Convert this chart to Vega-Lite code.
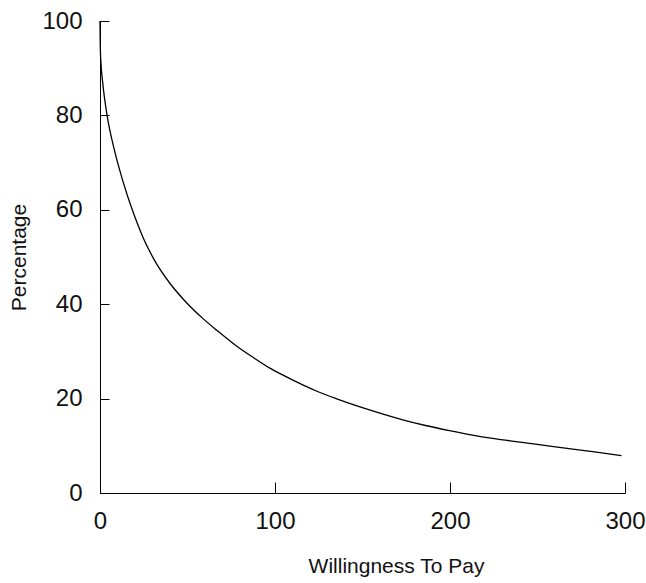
{
  "$schema": "https://vega.github.io/schema/vega-lite/v6.json",
  "width": 525,
  "height": 472,
  "autosize": {"type": "none"},
  "padding": {"left": 100, "top": 21, "right": 21, "bottom": 90},
  "background": "white",
  "data": {
    "values": [
      {"wtp": 0, "pct": 100},
      {"wtp": 0.17, "pct": 94.3},
      {"wtp": 0.6, "pct": 90.8},
      {"wtp": 1.5, "pct": 87.1},
      {"wtp": 4.0, "pct": 80.1},
      {"wtp": 8.0, "pct": 73.0},
      {"wtp": 12.9, "pct": 66.3},
      {"wtp": 19.2, "pct": 59.2},
      {"wtp": 24.4, "pct": 54.3},
      {"wtp": 31.0, "pct": 49.4},
      {"wtp": 39.6, "pct": 44.6},
      {"wtp": 48.0, "pct": 40.9},
      {"wtp": 58.7, "pct": 37.0},
      {"wtp": 67.0, "pct": 34.4},
      {"wtp": 77.8, "pct": 31.2},
      {"wtp": 88.0, "pct": 28.6},
      {"wtp": 96.8, "pct": 26.5},
      {"wtp": 106.0, "pct": 24.7},
      {"wtp": 115.8, "pct": 22.9},
      {"wtp": 125.0, "pct": 21.4},
      {"wtp": 134.9, "pct": 20.0},
      {"wtp": 154.0, "pct": 17.6},
      {"wtp": 173.0, "pct": 15.5},
      {"wtp": 186.0, "pct": 14.3},
      {"wtp": 199.7, "pct": 13.2},
      {"wtp": 212.0, "pct": 12.3},
      {"wtp": 225.4, "pct": 11.5},
      {"wtp": 240.0, "pct": 10.8},
      {"wtp": 254.0, "pct": 10.1},
      {"wtp": 268.0, "pct": 9.4},
      {"wtp": 282.6, "pct": 8.7},
      {"wtp": 298.0, "pct": 7.9}
    ]
  },
  "mark": {"type": "line", "color": "#000", "strokeWidth": 1.3, "interpolate": "monotone"},
  "encoding": {
    "x": {
      "field": "wtp",
      "type": "quantitative",
      "scale": {"domain": [0, 300], "nice": false, "zero": false},
      "axis": {
        "title": "Willingness To Pay",
        "values": [0, 100, 200, 300],
        "tickSize": -11,
        "labelPadding": 27,
        "titleX": 296,
        "titleY": 73,
        "titleBaseline": "middle",
        "titleAnchor": "middle",
        "titleAlign": "center"
      }
    },
    "y": {
      "field": "pct",
      "type": "quantitative",
      "scale": {"domain": [0, 100], "nice": false},
      "axis": {
        "title": "Percentage",
        "values": [0, 20, 40, 60, 80, 100],
        "tickSize": -9,
        "labelPadding": 27,
        "titleX": -81,
        "titleY": 236,
        "titleBaseline": "middle",
        "titleAlign": "center",
        "titleAngle": -90
      }
    }
  },
  "config": {
    "view": {"stroke": null},
    "axis": {
      "grid": false,
      "domainColor": "#000",
      "tickColor": "#000",
      "domainWidth": 1,
      "tickWidth": 1,
      "labelColor": "#111",
      "titleColor": "#111",
      "labelFont": "Liberation Sans",
      "titleFont": "Liberation Sans",
      "labelFontSize": 24,
      "titleFontSize": 21,
      "titleFontWeight": "normal",
      "labelFlush": false,
      "labelOverlap": false
    }
  }
}
